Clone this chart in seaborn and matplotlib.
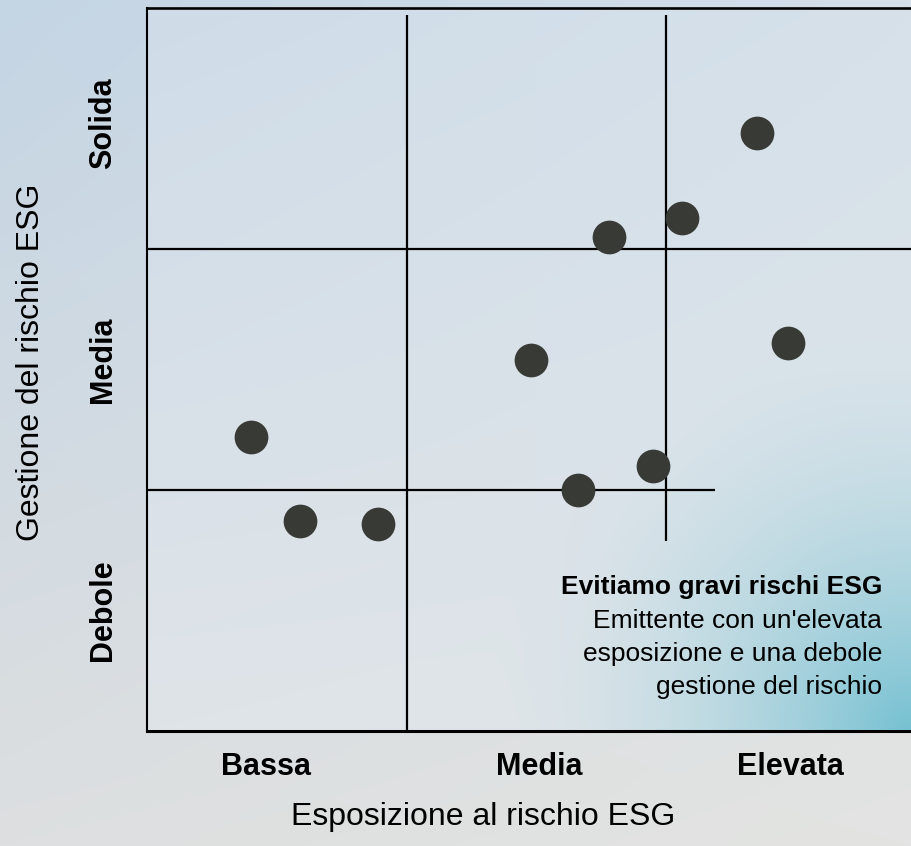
import numpy as np
import matplotlib
matplotlib.use("Agg")
import matplotlib.pyplot as plt
import pandas as pd
import seaborn as sns
from matplotlib.colors import to_rgb

# issuers: ESG risk exposure (x) vs ESG risk management (y), grid units 0-3
exposure = [2.35, 2.06, 1.78, 2.47, 1.48, 0.40, 1.95, 1.66, 0.59, 0.89]
management = [2.48, 2.13, 2.05, 1.61, 1.54, 1.22, 1.10, 1.00, 0.87, 0.86]

x_ticks = [0.46, 1.51, 2.48]
x_labels = ["Bassa", "Media", "Elevata"]
y_ticks = [0.50, 1.54, 2.52]
y_labels = ["Debole", "Media", "Solida"]

note_title = "Evitiamo gravi rischi ESG"
note_lines = ["Emittente con un'elevata", "esposizione e una debole", "gestione del rischio"]

W, H = 911, 846

sns.set_theme(style="white")
plt.rcParams['font.family'] = ['Liberation Sans', 'DejaVu Sans']
plt.rcParams['text.color'] = 'black'
plt.rcParams['xtick.color'] = 'black'
plt.rcParams['ytick.color'] = 'black'

fig = plt.figure(figsize=(W / 100, H / 100), dpi=100)


def corner_gradient(h, w, tl, tr, bl, br):
    yy, xx = np.mgrid[0:1:h * 1j, 0:1:w * 1j]
    tl, tr, bl, br = [np.array(to_rgb(c)) for c in (tl, tr, bl, br)]
    top = tl[None, None, :] * (1 - xx[..., None]) + tr[None, None, :] * xx[..., None]
    bot = bl[None, None, :] * (1 - xx[..., None]) + br[None, None, :] * xx[..., None]
    return top * (1 - yy[..., None]) + bot * yy[..., None]


# sky-like figure background
bg = fig.add_axes([0, 0, 1, 1], zorder=-10)
bg.imshow(corner_gradient(H // 4, W // 4, "#c4d5e4", "#d4dfe9", "#dddfe0", "#e3e4e2"),
          extent=[0, 1, 0, 1], aspect="auto", interpolation="bicubic")
bg.set_axis_off()

# plot area: ~259.5 px per unit horizontally, 241 px per unit vertically
left_px, top_px, bottom_px = 147, 8, 731
ux = 259.5
uy = (bottom_px - top_px) / 3
ax = fig.add_axes([left_px / W, (H - bottom_px) / H, 3 * ux / W, 3 * uy / H])
ax.set_xlim(0, 3)
ax.set_ylim(0, 3)
ax.patch.set_alpha(0)

# plot-area background with a teal glow in the lower-right corner
ah, aw = 200, 216
yy, xx = np.mgrid[0:1:ah * 1j, 0:1:aw * 1j]
px = left_px + xx * 3 * ux
py = top_px + yy * (bottom_px - top_px)
base = corner_gradient(ah, aw, "#cfdce8", "#d6e1ea", "#dfe4e8", "#e0e6ea")
d = np.hypot(px - W, py - bottom_px)
w = np.clip(1 - d / 430, 0, 1) ** 1.8
teal = np.array(to_rgb("#76c1d2"))
img = base * (1 - w[..., None]) + teal[None, None, :] * w[..., None]
ax.imshow(img, extent=[0, 3, 0, 3], aspect="auto", zorder=0, interpolation="bicubic")

# quadrant lines
ax.vlines(1, 0, 2.97, color="black", lw=1.6, zorder=2)
ax.vlines(2, 0.79, 2.97, color="black", lw=1.6, zorder=2)
ax.hlines(2, 0, 3, color="black", lw=1.6, zorder=2)
ax.hlines(1, 0, 2.19, color="black", lw=1.6, zorder=2)

df = pd.DataFrame({"exposure": exposure, "management": management})
sns.scatterplot(data=df, x="exposure", y="management", ax=ax, s=590,
                color="#383a36", linewidth=0, zorder=3)

for side in ["top", "bottom", "left"]:
    ax.spines[side].set_visible(True)
    ax.spines[side].set_color("black")
ax.spines["top"].set_linewidth(1.9)
ax.spines["bottom"].set_linewidth(2.2)
ax.spines["left"].set_linewidth(1.5)
ax.spines["right"].set_visible(False)

ax.set_xticks(x_ticks)
ax.set_xticklabels(x_labels, fontsize=22, fontweight="bold")
ax.set_yticks(y_ticks)
ax.set_yticklabels(y_labels, fontsize=22, fontweight="bold", rotation=90, va="center")
ax.tick_params(axis="x", length=0, pad=15)
ax.tick_params(axis="y", length=0, pad=21)
ax.set_xlabel("")
ax.set_ylabel("")

fig.text(483 / W, 1 - 817 / H, "Esposizione al rischio ESG", fontsize=23,
         ha="center", va="center")
fig.text(31 / W, 1 - 362 / H, "Gestione del rischio ESG", fontsize=23,
         rotation=90, ha="center", va="center")

fig.text(882 / W, 1 - 587 / H, note_title, fontsize=19, fontweight="bold",
         ha="right", va="center")
for i, line in enumerate(note_lines):
    fig.text(882 / W, 1 - (621 + 33 * i) / H, line, fontsize=19,
             ha="right", va="center")

fig.savefig("out.png", dpi=100)
